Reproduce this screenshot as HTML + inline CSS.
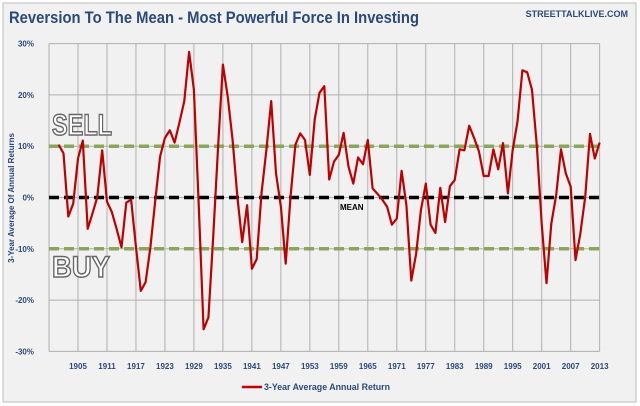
<!DOCTYPE html>
<html><head><meta charset="utf-8"><style>
html,body{margin:0;padding:0;background:#fff;}
svg{display:block;font-family:"Liberation Sans",sans-serif;}
</style></head><body>
<svg id="chart" width="640" height="406" viewBox="0 0 640 406">
<rect x="3" y="3" width="633" height="399" fill="#f1f1f1" stroke="#bdbdbd"/>
<text x="9" y="23" font-size="17" font-weight="bold" fill="#2a4a7a" textLength="410" lengthAdjust="spacingAndGlyphs">Reversion To The Mean - Most Powerful Force In Investing</text>
<text x="628" y="17" font-size="9" font-weight="bold" fill="#2a4a7a" text-anchor="end">STREETTALKLIVE.COM</text>
<g id="grid"></g>
<g id="ylabels"></g>
<g id="xlabels"></g>
<text transform="translate(14,198) rotate(-90)" font-size="8" font-weight="bold" fill="#2a4a7a" text-anchor="middle">3-Year Average Of Annual Returns</text>
<g id="refs"></g>
<text x="52" y="135" font-size="30" font-weight="bold" fill="#fff" stroke="#666" stroke-width="1.5" textLength="60" lengthAdjust="spacingAndGlyphs">SELL</text>
<text x="52" y="277" font-size="30" font-weight="bold" fill="#fff" stroke="#666" stroke-width="1.5" textLength="58" lengthAdjust="spacingAndGlyphs">BUY</text>
<text x="340" y="210" font-size="8" font-weight="bold" fill="#000">MEAN</text>
<path id="series" fill="none" stroke="#c00000" stroke-width="2.2" stroke-linejoin="round"/>
<line x1="242" y1="387" x2="262" y2="387" stroke="#c00000" stroke-width="2.5"/>
<text x="264" y="390" font-size="9.5" font-weight="bold" fill="#2a4a7a" textLength="126" lengthAdjust="spacingAndGlyphs">3-Year Average Annual Return</text>
</svg>
<script>
const startYear = 1901;
const values = [10.3,8.6,-3.7,-1.2,7.6,11.1,-6.1,-3.1,0.1,9.2,-0.8,-2.8,-6.1,-9.7,-1,-0.4,-9.7,-18.2,-16.5,-9.7,-0.5,8,11.6,13.1,10.7,14.6,18.8,28.4,21,-1.8,-25.7,-23.4,-7.7,9.9,25.9,19.7,11.2,0.1,-8.7,-1.5,-13.9,-12,0.8,9.3,18.8,4.7,-1.8,-12.9,0.1,10.3,12.5,11.2,4.4,15.2,20.4,21.7,3.5,7,8.3,12.6,6,2.7,7.8,6.5,11.2,1.8,0.7,-0.4,-1.8,-5.3,-4.1,5.2,-1.5,-16.2,-11,-2.5,2.7,-5.3,-6.9,1.9,-4.8,2.2,3.4,9.4,9.2,14,11.6,9,4.2,4.2,9.4,5.5,10.6,0.8,9.3,14.8,24.8,24.4,21,9.9,-5.1,-16.7,-5.1,0.5,9.4,4.7,2.1,-12.2,-7.1,0.1,12.4,7.6,10.7];
const xTicks = [1905,1911,1917,1923,1929,1935,1941,1947,1953,1959,1965,1971,1977,1983,1989,1995,2001,2007,2013];
const yTicks = [30,20,10,0,-10,-20,-30];
const refLevels = [10,-10];
const meanLevel = 0;
const NS='http://www.w3.org/2000/svg';
const xs = y => 78 + (y-1905)*4.83;
const ys = v => 197.5 - v*5.13;
function mk(tag, attrs, parent){const e=document.createElementNS(NS,tag);for(const k in attrs)e.setAttribute(k,attrs[k]);parent.appendChild(e);return e;}
const grid=document.getElementById('grid'), yl=document.getElementById('ylabels'), xl=document.getElementById('xlabels'), refs=document.getElementById('refs');
const x0=xs(1899), x1=xs(2013);
yTicks.forEach(t=>{
  const l=mk('line',{x1:x0,x2:x1,y1:ys(t),y2:ys(t),stroke:'#b0b0b0','stroke-width':1},grid);
  
  
  const tx=mk('text',{x:34,y:ys(t)+3,'font-size':8,'font-weight':'bold',fill:'#2a4a7a','text-anchor':'end'},yl);
  tx.textContent=t+'%';
  
  
});
[1899].concat(xTicks).forEach(t=>{
  const l=mk('line',{x1:xs(t),x2:xs(t),y1:ys(30),y2:ys(-30),stroke:'#b0b0b0','stroke-width':1},grid);
  
  
});
xTicks.forEach(t=>{
  const tx=mk('text',{x:xs(t),y:369,'font-size':8,'font-weight':'bold',fill:'#2a4a7a','text-anchor':'middle'},xl);
  tx.textContent=t;
  
  
});
refLevels.forEach(v=>{
  const l=mk('line',{x1:x0,x2:x1,y1:ys(v),y2:ys(v),stroke:'#8aa65a','stroke-width':3.5,'stroke-dasharray':'10 5'},refs);
  
  
});
const m=mk('line',{x1:x0,x2:x1,y1:ys(meanLevel),y2:ys(meanLevel),stroke:'#000','stroke-width':3.5,'stroke-dasharray':'10 5'},refs);


document.getElementById('series').setAttribute('d', values.map((v,i)=>(i?'L':'M')+xs(startYear+i).toFixed(1)+','+ys(v).toFixed(1)).join(' '));
</script>
</body></html>
